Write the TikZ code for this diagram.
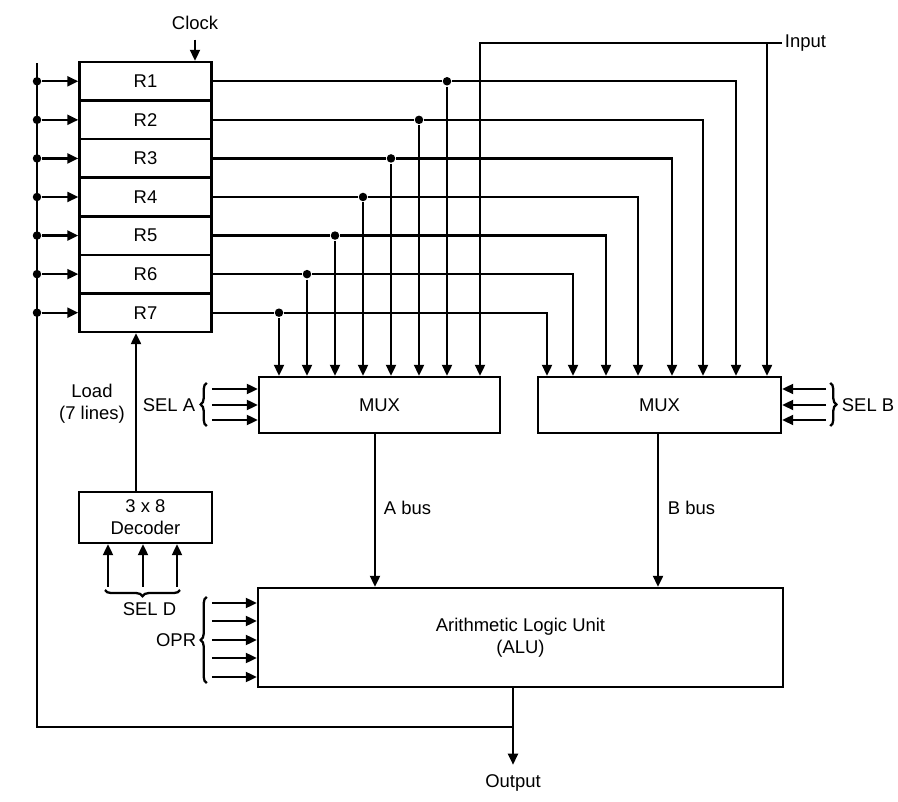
\documentclass[tikz,border=0pt]{standalone}
\usepackage{fontspec}
\setmainfont{Liberation Sans}
\usetikzlibrary{arrows.meta, positioning, decorations.pathreplacing, calc}

\begin{document}
\begin{tikzpicture}[
		font=\fontsize{10.5}{12.6}\selectfont,
		line width=1.3pt,
		% Style for the blocks
		blk/.style={draw, line width=1.4pt, inner sep=2pt, align=center},
		reg/.style={blk, minimum width=2.64cm, minimum height=0.7714cm},
		% Wires, taps and braces
		arr/.style={-{Triangle[length=2.2mm, width=2mm]}},
		tap/.style={circle, fill, inner sep=0pt, minimum size=1.7mm},
		brc/.style={decorate, decoration={brace, amplitude=3.5pt}},
		% Text labels
		lbl/.style={inner sep=1pt, align=center},
		pin label/.style={lbl, inner ysep=5pt}
	]
	\useasboundingbox (0,0) rectangle (17.96,16.02);

	% ==============================================================================
	% REGISTERS R1 ... R7
	% ==============================================================================
	\foreach \i in {1,...,7}
		\node[reg] (R\i) at (2.91, {14.78-0.7714*(\i-0.5)}) {R\i};

	\node[pin label] (clock) at (3.9, 15.56) {Clock};
	\draw[arr] (clock.south) -- (clock.south |- R1.north);

	% Load bus on the left
	\coordinate (bustop) at (0.74, 14.76);
	\foreach \i in {1,...,7} {
		\node[tap] (d\i) at (R\i.west -| bustop) {};
		\draw[arr] (d\i) -- (R\i.west);
	}

	% ==============================================================================
	% MULTIPLEXERS
	% ==============================================================================
	\node[blk, minimum width=4.82cm, minimum height=1.12cm] (muxA) at (7.59, 7.92) {MUX};
	\node[blk, minimum width=4.86cm, minimum height=1.12cm] (muxB) at (13.19, 7.92) {MUX};

	% Register outputs to both MUX
	\foreach \i/\xa/\xb in {1/8.94/14.72, 2/8.38/14.06, 3/7.82/13.44, 4/7.26/12.76,
			5/6.70/12.12, 6/6.14/11.46, 7/5.58/10.94} {
		\coordinate (a\i) at (\xa, 0);
		\coordinate (b\i) at (\xb, 0);
		\node[tap] (t\i) at (a\i |- R\i.east) {};
		\draw (R\i.east) -- (t\i);
		\draw[arr] (t\i) -- (t\i |- muxA.north);
		\draw[arr] (t\i) -| (b\i |- muxB.north);
	}

	% Input
	\node[lbl, anchor=west] (input) at (15.64, 15.16) {Input};
	\coordinate (inA) at (9.6, 0);
	\coordinate (inB) at (15.34, 0);
	\draw[arr] (input.west) -| (inA |- muxA.north);
	\draw[arr] (inB |- input.west) -- (inB |- muxB.north);

	% Select lines
	\foreach \k/\dy in {1/0.32, 2/0, 3/-0.3} {
		\coordinate (sa\k) at ([shift={(-0.92,\dy)}]muxA.west);
		\draw[arr] (sa\k) -- (sa\k -| muxA.west);
		\coordinate (sb\k) at ([shift={(0.88,\dy)}]muxB.east);
		\draw[arr] (sb\k) -- (sb\k -| muxB.east);
	}
	\draw[brc] ([shift={(-0.1,-0.12)}]sa3) -- ([shift={(-0.1,0.12)}]sa1);
	\draw[brc] ([shift={(0.08,0.12)}]sb1) -- ([shift={(0.08,-0.12)}]sb3);
	\node[lbl, anchor=east] (selA) at (3.96, 7.92) {SEL A};
	\node[lbl, anchor=west] (selB) at (16.78, 7.92) {SEL B};

	% ==============================================================================
	% DECODER
	% ==============================================================================
	\node[blk, minimum width=2.66cm, minimum height=1.02cm] (dec) at (2.91, 5.67) {3 x 8\\Decoder};
	\coordinate (ld) at (2.72, 0);
	\draw[arr] (ld |- dec.north) -- (ld |- R7.south);
	\node[lbl] (load) at (1.84, 7.94) {Load\\(7 lines)};

	\foreach \k/\x in {1/2.16, 2/2.86, 3/3.54} {
		\coordinate (sd\k) at (\x, 4.28);
		\draw[arr] (sd\k) -- (sd\k |- dec.south);
	}
	\draw[brc] ([shift={(0.06,-0.06)}]sd3) -- ([shift={(-0.06,-0.06)}]sd1);
	\node[lbl] (selD) at (2.99, 3.84) {SEL D};

	% ==============================================================================
	% ALU
	% ==============================================================================
	\node[blk, minimum width=10.5cm, minimum height=1.98cm] (alu) at (10.41, 3.27) {Arithmetic Logic Unit\\(ALU)};

	\coordinate (ab) at (7.5, 0);
	\coordinate (bb) at (13.16, 0);
	\draw[arr] (ab |- muxA.south) -- (ab |- alu.north);
	\draw[arr] (bb |- muxB.south) -- (bb |- alu.north);
	\node[lbl, anchor=west] (abus) at (7.62, 5.86) {A bus};
	\node[lbl, anchor=west] (bbus) at (13.3, 5.86) {B bus};

	\foreach \k/\dy in {1/0.69, 2/0.33, 3/-0.05, 4/-0.41, 5/-0.79} {
		\coordinate (op\k) at ([shift={(-0.9,\dy)}]alu.west);
		\draw[arr] (op\k) -- (op\k -| alu.west);
	}
	\draw[brc] ([shift={(-0.1,-0.12)}]op5) -- ([shift={(-0.1,0.12)}]op1);
	\node[lbl, anchor=east] (opr) at (3.98, 3.22) {OPR};

	% Output and feedback to the registers
	\node[pin label] (output) at (10.26, 0.36) {Output};
	\coordinate (oc) at (10.26, 1.48);
	\draw[arr] (oc |- alu.south) -- (output.north);
	\draw (oc) -| (bustop);
\end{tikzpicture}
\end{document}
